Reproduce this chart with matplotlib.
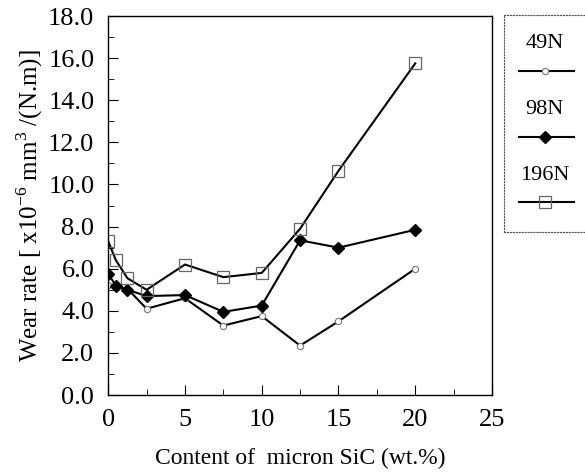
import matplotlib
matplotlib.use('Agg')
import matplotlib.pyplot as plt
from matplotlib.ticker import MultipleLocator, FormatStrFormatter

plt.rcParams['font.family'] = 'Liberation Serif'
plt.rcParams['mathtext.fontset'] = 'custom'
plt.rcParams['mathtext.rm'] = 'Liberation Serif'

sic = [0, 0.5, 1.25, 2.5, 5, 7.5, 10, 12.5, 15, 20]
wear_49 = [5.25, 5.15, 5.05, 4.1, 4.6, 3.3, 3.75, 2.35, 3.5, 6.0]
wear_98 = [5.75, 5.2, 5.0, 4.7, 4.75, 3.95, 4.25, 7.35, 7.0, 7.85]
wear_196 = [7.3, 6.4, 5.55, 5.0, 6.2, 5.6, 5.8, 7.9, 10.65, 15.75]
labels = ['49N', '98N', '196N']

fig = plt.figure(figsize=(5.85, 4.72), dpi=100)
ax = fig.add_axes([0.185, 0.163, 0.656, 0.803])

styles = [
    dict(marker='o', ms=4.5, mfc='white', mec='#777777', mew=0.8),
    dict(marker='D', ms=6, mfc='black', mec='black'),
    dict(marker='s', ms=8, mfc='none', mec='#666666', mew=0.9),
]
for ys, st in zip([wear_49, wear_98, wear_196], styles):
    ax.plot(sic, ys, color='black', lw=1.5, **st)

ax.set_xlim(0, 25)
ax.set_ylim(0, 18)
ax.xaxis.set_major_locator(MultipleLocator(5))
ax.xaxis.set_minor_locator(MultipleLocator(2.5))
ax.yaxis.set_major_locator(MultipleLocator(2))
ax.yaxis.set_minor_locator(MultipleLocator(1))
ax.yaxis.set_major_formatter(FormatStrFormatter('%.1f'))
ax.tick_params(which='both', direction='in', top=False, right=False, labelsize=19)
ax.tick_params(which='major', length=7, pad=10)
ax.tick_params(which='minor', length=4)
for sp in ax.spines.values():
    sp.set_linewidth(1.0)
ax.set_xlabel('Content of  micron SiC (wt.%)', fontsize=17, labelpad=12)
ax.set_ylabel(r'Wear rate [ x10$^{-6}$ mm$^3$ /(N.m)]', fontsize=18, labelpad=2)

# legend box
lax = fig.add_axes([0.8615, 0.508, 0.145, 0.46])
lax.set_xlim(0, 1)
lax.set_ylim(0, 1)
lax.set_xticks([])
lax.set_yticks([])
for sp in lax.spines.values():
    sp.set_linestyle(':')
    sp.set_linewidth(0.8)
    sp.set_color('#555555')
text_y = [0.871, 0.567, 0.263]
line_y = [0.742, 0.438, 0.138]
for lab, st, ty, ly in zip(labels, styles, text_y, line_y):
    lax.text(0.48, ty, lab, ha='center', va='center', fontsize=16)
    lax.plot([0.18, 0.82], [ly, ly], color='black', lw=1.5)
    lax.plot([0.48], [ly], ls='none', **st)

fig.savefig('out.png', dpi=100)
